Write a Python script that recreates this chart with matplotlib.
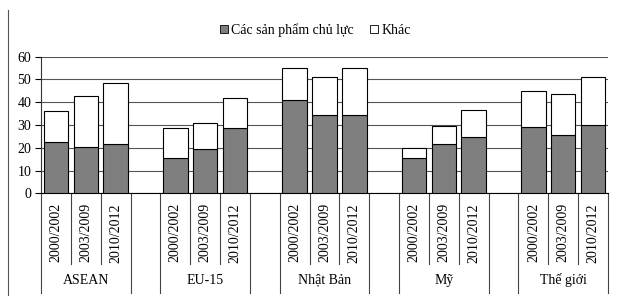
import matplotlib
matplotlib.use('Agg')
import matplotlib.pyplot as plt
from matplotlib.patches import Patch
from matplotlib.lines import Line2D

plt.rcParams['font.family'] = ['Liberation Serif', 'DejaVu Serif']

groups = ['ASEAN', 'EU-15', 'Nhật Bản', 'Mỹ', 'Thế giới']
periods = ['2000/2002', '2003/2009', '2010/2012']
chu_luc = [[22.7, 20.5, 21.5], [15.6, 19.3, 28.8], [41.0, 34.4, 34.4], [15.4, 21.5, 24.9], [29.3, 25.6, 30.0]]
tong = [[36.3, 42.7, 48.3], [28.5, 31.0, 42.0], [54.9, 50.9, 55.2], [20.0, 29.7, 36.6], [45.1, 43.6, 51.2]]

mau_xam = '#7f7f7f'

fig = plt.figure(figsize=(6.19, 2.96), dpi=100)
ax = fig.add_axes([41/619, 1 - 193.3/296, 567/619, 136.6/296])

vi_tri = []
nhan = []
for g in range(len(groups)):
    for i in range(len(periods)):
        x = g * 4 + i
        khac = tong[g][i] - chu_luc[g][i]
        ax.bar(x, chu_luc[g][i], width=0.82, color=mau_xam, edgecolor='black', linewidth=0.8, zorder=3)
        ax.bar(x, khac, bottom=chu_luc[g][i], width=0.82, color='white', edgecolor='black', linewidth=0.8, zorder=3)
        vi_tri.append(x)
        nhan.append(periods[i])

ax.set_xlim(-0.5, 18.5)
ax.set_ylim(0, 60)
ax.set_yticks(range(0, 61, 10))
ax.yaxis.grid(True, color='#555555', linewidth=0.8, zorder=0)
ax.set_axisbelow(True)
ax.tick_params(axis='y', labelsize=10, length=4, width=0.8, pad=3, colors='black')
ax.set_xticks(vi_tri)
ax.set_xticklabels(nhan, rotation=90, fontsize=10)
ax.tick_params(axis='x', length=0, pad=7)
for s in ['top', 'right']:
    ax.spines[s].set_visible(False)
ax.spines['left'].set_color('#333333')
ax.spines['bottom'].set_color('black')

# separator lines under the axis (multi-level categories)
tr = ax.get_xaxis_transform()
for g in range(len(groups)):
    x0 = g * 4 - 0.5
    ax.plot([x0, x0], [0, -0.73], transform=tr, color='#444444', lw=0.8, clip_on=False)
    for i in range(1, 3):
        xs = g * 4 + i - 0.5
        ax.plot([xs, xs], [0, -0.52], transform=tr, color='#444444', lw=0.8, clip_on=False)
    x1 = g * 4 + 2.5
    ax.plot([x1, x1], [0, -0.73], transform=tr, color='#444444', lw=0.8, clip_on=False)
    ax.text(g * 4 + 1, -0.635, groups[g], transform=tr, ha='center', va='center', fontsize=10)

# left border of the chart area
fig.add_artist(Line2D([8/619, 8/619], [0, 1 - 10/296], color='#555555', lw=0.8))

handles = [Patch(facecolor=mau_xam, edgecolor='black', linewidth=0.6),
           Patch(facecolor='white', edgecolor='black', linewidth=0.6)]
fig.legend(handles, ['Các sản phẩm chủ lực', 'Khác'], loc='center', ncol=2,
           bbox_to_anchor=(315/619, 1 - 30/296), frameon=False, fontsize=10,
           handlelength=0.6, handleheight=0.6, handletextpad=0.2, columnspacing=1.2)

fig.savefig('out.png', dpi=100)
